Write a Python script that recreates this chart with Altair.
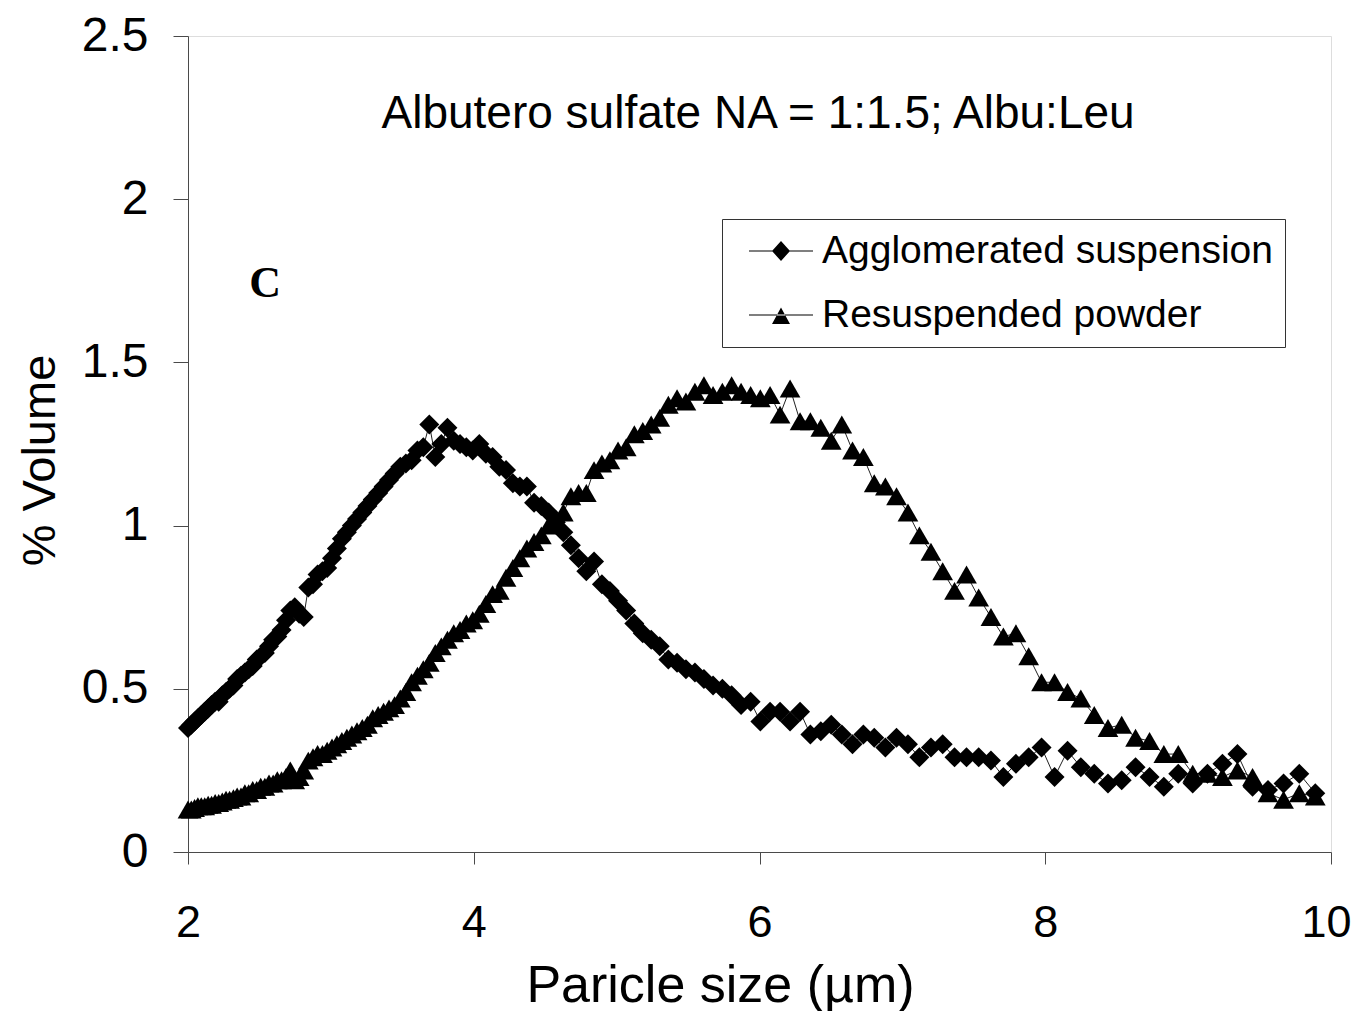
import altair as alt
import pandas as pd

# Particle size bins (µm)
size_um = [
    2.000, 2.023, 2.046, 2.069, 2.093, 2.117, 2.141, 2.165, 2.190, 2.215,
    2.240, 2.266, 2.291, 2.318, 2.344, 2.371, 2.398, 2.425, 2.453, 2.481,
    2.509, 2.538, 2.567, 2.596, 2.625, 2.655, 2.686, 2.716, 2.747, 2.778,
    2.810, 2.842, 2.875, 2.907, 2.941, 2.974, 3.008, 3.042, 3.077, 3.112,
    3.147, 3.183, 3.220, 3.256, 3.293, 3.331, 3.369, 3.407, 3.446, 3.486,
    3.525, 3.565, 3.606, 3.647, 3.689, 3.731, 3.773, 3.816, 3.860, 3.904,
    3.948, 3.993, 4.039, 4.085, 4.132, 4.179, 4.226, 4.274, 4.323, 4.372,
    4.422, 4.473, 4.524, 4.575, 4.627, 4.680, 4.734, 4.788, 4.842, 4.897,
    4.953, 5.010, 5.067, 5.124, 5.183, 5.242, 5.302, 5.362, 5.423, 5.485,
    5.548, 5.611, 5.675, 5.740, 5.805, 5.871, 5.938, 6.006, 6.074, 6.144,
    6.214, 6.284, 6.356, 6.429, 6.502, 6.576, 6.651, 6.727, 6.803, 6.881,
    6.959, 7.039, 7.119, 7.200, 7.282, 7.365, 7.449, 7.534, 7.620, 7.707,
    7.795, 7.884, 7.974, 8.065, 8.156, 8.249, 8.343, 8.439, 8.535, 8.632,
    8.730, 8.830, 8.931, 9.032, 9.135, 9.240, 9.345, 9.451, 9.559, 9.668,
    9.778, 9.890,
]

agglomerated = [
    0.38, 0.39, 0.40, 0.41, 0.42, 0.43, 0.44, 0.45, 0.46, 0.46,
    0.48, 0.49, 0.50, 0.51, 0.53, 0.54, 0.55, 0.56, 0.57, 0.59,
    0.60, 0.61, 0.63, 0.65, 0.66, 0.68, 0.71, 0.74, 0.75, 0.73,
    0.72, 0.81, 0.82, 0.85, 0.86, 0.87, 0.90, 0.93, 0.96, 0.98,
    1.00, 1.02, 1.04, 1.06, 1.08, 1.10, 1.12, 1.14, 1.16, 1.18,
    1.19, 1.20, 1.23, 1.24, 1.31, 1.21, 1.25, 1.30, 1.26, 1.25,
    1.24, 1.23, 1.25, 1.22, 1.21, 1.18, 1.17, 1.13, 1.12, 1.12,
    1.07, 1.06, 1.04, 1.01, 0.98, 0.94, 0.90, 0.86, 0.89, 0.82,
    0.80, 0.77, 0.74, 0.70, 0.67, 0.65, 0.63, 0.59, 0.58, 0.56,
    0.55, 0.53, 0.51, 0.50, 0.48, 0.45, 0.46, 0.40, 0.43, 0.43,
    0.40, 0.43, 0.36, 0.37, 0.39, 0.36, 0.33, 0.36, 0.35, 0.32,
    0.35, 0.33, 0.29, 0.32, 0.33, 0.29, 0.29, 0.29, 0.28, 0.23,
    0.27, 0.29, 0.32, 0.23, 0.31, 0.26, 0.24, 0.21, 0.22, 0.26,
    0.23, 0.20, 0.24, 0.21, 0.24, 0.27, 0.30, 0.20, 0.19, 0.21,
    0.24, 0.18,
]

resuspended = [
    0.13, 0.13, 0.135, 0.14, 0.14, 0.14, 0.145, 0.145, 0.15, 0.15,
    0.155, 0.16, 0.16, 0.165, 0.17, 0.17, 0.18, 0.18, 0.19, 0.19,
    0.20, 0.20, 0.21, 0.21, 0.22, 0.22, 0.23, 0.25, 0.22, 0.23,
    0.25, 0.28, 0.29, 0.30, 0.30, 0.31, 0.32, 0.33, 0.34, 0.35,
    0.36, 0.37, 0.38, 0.39, 0.41, 0.42, 0.43, 0.44, 0.45, 0.47,
    0.49, 0.52, 0.54, 0.56, 0.58, 0.61, 0.63, 0.65, 0.67, 0.68,
    0.70, 0.71, 0.73, 0.76, 0.79, 0.80, 0.84, 0.87, 0.90, 0.93,
    0.95, 0.97, 1.00, 1.02, 1.04, 1.09, 1.10, 1.10, 1.17, 1.19,
    1.20, 1.23, 1.24, 1.28, 1.29, 1.31, 1.33, 1.37, 1.39, 1.38,
    1.41, 1.43, 1.40, 1.41, 1.43, 1.41, 1.40, 1.39, 1.40, 1.34,
    1.42, 1.32, 1.32, 1.30, 1.26, 1.31, 1.23, 1.21, 1.13, 1.12,
    1.09, 1.04, 0.97, 0.92, 0.86, 0.80, 0.85, 0.78, 0.72, 0.66,
    0.67, 0.60, 0.52, 0.52, 0.49, 0.47, 0.42, 0.38, 0.39, 0.35,
    0.34, 0.30, 0.30, 0.24, 0.24, 0.23, 0.25, 0.23, 0.18, 0.16,
    0.18, 0.17,
]

series_names = ["Agglomerated suspension", "Resuspended powder"]
x_ticks = [2, 4, 6, 8, 10]
y_ticks = [0, 0.5, 1, 1.5, 2, 2.5]
plot_title = "Albutero sulfate NA = 1:1.5; Albu:Leu"
panel_label = "C"

rows = []
for name, vals in zip(series_names, [agglomerated, resuspended]):
    for xv, yv in zip(size_um, vals):
        rows.append({"size": xv, "vol": yv, "series": name})
df = pd.DataFrame(rows)

FONT = "Liberation Sans"
AXIS_COLOR = "#4a4a4a"

x_enc = alt.X(
    "size:Q",
    scale=alt.Scale(domain=[2, 10], nice=False, zero=False),
    axis=alt.Axis(
        values=x_ticks, format="~g", title="Paricle size (µm)", grid=False,
        labelFont=FONT, labelFontSize=45, labelColor="black",
        labelPadding=36, tickSize=12, tickColor=AXIS_COLOR,
        domainColor=AXIS_COLOR, labelFlush=False,
        labelOffset={"condition": {"test": "datum.value == 10", "value": -5}, "value": 0},
        titleFont=FONT, titleFontSize=52, titleFontWeight="normal",
        titleColor="black", titleBaseline="alphabetic", titleAlign="center",
        titleX=532, titleY=149,
    ),
)
y_enc = alt.Y(
    "vol:Q",
    scale=alt.Scale(domain=[0, 2.5], nice=False, zero=True),
    axis=alt.Axis(
        values=y_ticks, format="~g", title="% Volume", grid=False,
        labelFont=FONT, labelFontSize=48, labelColor="black",
        labelPadding=25, tickSize=15, tickColor=AXIS_COLOR,
        domainColor=AXIS_COLOR, labelFlush=False,
        titleFont=FONT, titleFontSize=47, titleFontWeight="normal",
        titleColor="black", titleBaseline="middle", titleX=-148, titleY=424,
        titleAngle=270,
    ),
)

base = alt.Chart(df)

lines = base.mark_line(color="#222222", strokeWidth=1).encode(
    x=x_enc, y=y_enc, detail="series:N", order="size:Q"
)

points = base.mark_point(filled=True, color="black", opacity=1).encode(
    x="size:Q",
    y="vol:Q",
    shape=alt.Shape(
        "series:N",
        scale=alt.Scale(domain=series_names, range=["diamond", "triangle-up"]),
        legend=None,
    ),
    size=alt.Size(
        "series:N",
        scale=alt.Scale(domain=series_names, range=[400, 430]),
        legend=None,
    ),
)

# legend glyphs: a thin bar (the line) with the marker in the middle
legend_diamond = (
    "M-1.6,-0.03L1.6,-0.03L1.6,0.03L-1.6,0.03Z"
    "M-0.45,0L0,-0.5L0.45,0L0,0.5Z"
)
legend_triangle = (
    "M-1.6,-0.03L1.6,-0.03L1.6,0.03L-1.6,0.03Z"
    "M0,-0.38L-0.45,0.45L0.45,0.45Z"
)

legend_layer = base.transform_filter("datum.vol < -1").mark_point(
    filled=True, color="black", opacity=1
).encode(
    x="size:Q",
    y="vol:Q",
    shape=alt.Shape(
        "series:N",
        scale=alt.Scale(domain=series_names, range=[legend_diamond, legend_triangle]),
        legend=alt.Legend(
            title=None, orient="none", legendX=534, legendY=183,
            padding=12, strokeColor="#333333", fillColor="white",
            symbolSize=1600, symbolOffset=27, labelOffset=21, rowPadding=24,
            labelFont=FONT, labelFontSize=39, labelColor="black", labelLimit=0,
            symbolFillColor="black", symbolStrokeWidth=0,
        ),
    ),
)

title_df = pd.DataFrame({"size": [5.99], "vol": [2.26], "label": [plot_title]})
title_text = alt.Chart(title_df).mark_text(
    font=FONT, fontSize=46, color="black", align="center", baseline="middle"
).encode(x="size:Q", y="vol:Q", text="label:N")

c_df = pd.DataFrame({"size": [2.54], "vol": [1.74], "label": [panel_label]})
c_text = alt.Chart(c_df).mark_text(
    font="Liberation Serif", fontSize=44, fontWeight="bold", color="black",
    align="center", baseline="middle"
).encode(x="size:Q", y="vol:Q", text="label:N")

chart = alt.layer(lines, points, legend_layer, title_text, c_text).resolve_scale(
    shape="independent", size="independent"
).properties(
    width=1143,
    height=816,
    autosize=alt.AutoSizeParams(type="none"),
    padding={"left": 180, "top": 28, "right": 22, "bottom": 159},
).configure_view(
    stroke=AXIS_COLOR, strokeWidth=1
).configure(
    background="white"
)

chart.save("out.html", embed_options={"renderer": "svg", "actions": False})
